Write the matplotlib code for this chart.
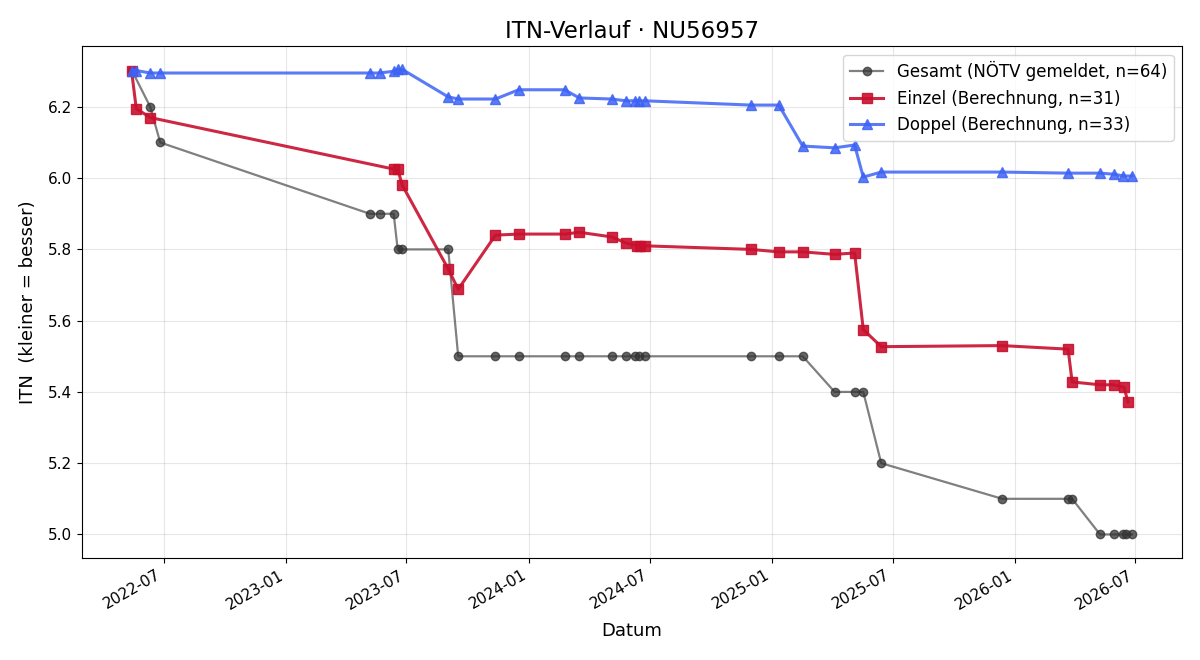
import matplotlib
matplotlib.use("Agg")
import matplotlib.pyplot as plt
import matplotlib.dates as mdates
import pandas as pd

gesamt_dates = ["2022-05-15", "2022-06-11", "2022-06-26", "2023-05-07", "2023-05-22", "2023-06-12",
                "2023-06-18", "2023-06-25", "2023-09-02", "2023-09-17", "2023-11-12", "2023-12-17",
                "2024-02-24", "2024-03-17", "2024-05-05", "2024-05-26", "2024-06-09", "2024-06-15",
                "2024-06-24", "2024-11-30", "2025-01-11", "2025-02-16", "2025-04-05", "2025-05-05",
                "2025-05-18", "2025-06-14", "2025-12-13", "2026-03-22", "2026-03-28", "2026-05-09",
                "2026-05-30", "2026-06-13", "2026-06-17", "2026-06-26"]
gesamt_vals = [6.3, 6.2, 6.1, 5.9, 5.9, 5.9,
               5.8, 5.8, 5.8, 5.5, 5.5, 5.5,
               5.5, 5.5, 5.5, 5.5, 5.5, 5.5,
               5.5, 5.5, 5.5, 5.5, 5.4, 5.4,
               5.4, 5.2, 5.1, 5.1, 5.1, 5.0,
               5.0, 5.0, 5.0, 5.0]

einzel_dates = ["2022-05-14", "2022-05-21", "2022-06-11", "2023-06-13", "2023-06-18", "2023-06-25",
                "2023-09-02", "2023-09-17", "2023-11-12", "2023-12-17", "2024-02-24", "2024-03-17",
                "2024-05-05", "2024-05-26", "2024-06-12", "2024-06-16", "2024-06-24", "2024-11-30",
                "2025-01-11", "2025-02-16", "2025-04-05", "2025-05-05", "2025-05-18", "2025-06-14",
                "2025-12-13", "2026-03-22", "2026-03-28", "2026-05-09", "2026-05-30", "2026-06-14",
                "2026-06-20"]
einzel_vals = [6.300, 6.195, 6.170, 6.025, 6.025, 5.980,
               5.745, 5.688, 5.840, 5.843, 5.843, 5.848,
               5.835, 5.818, 5.810, 5.810, 5.810, 5.800,
               5.793, 5.793, 5.786, 5.790, 5.575, 5.527,
               5.530, 5.520, 5.428, 5.420, 5.420, 5.413,
               5.372]

doppel_dates = ["2022-05-14", "2022-05-21", "2022-06-11", "2022-06-26", "2023-05-07", "2023-05-22",
                "2023-06-12", "2023-06-18", "2023-06-25", "2023-09-02", "2023-09-17", "2023-11-12",
                "2023-12-17", "2024-02-24", "2024-03-17", "2024-05-05", "2024-05-26", "2024-06-09",
                "2024-06-15", "2024-06-24", "2024-11-30", "2025-01-11", "2025-02-16", "2025-04-05",
                "2025-05-05", "2025-05-18", "2025-06-14", "2025-12-13", "2026-03-22", "2026-05-09",
                "2026-05-30", "2026-06-13", "2026-06-26"]
doppel_vals = [6.300, 6.302, 6.295, 6.295, 6.295, 6.295,
               6.300, 6.305, 6.305, 6.228, 6.222, 6.222,
               6.248, 6.248, 6.225, 6.222, 6.217, 6.217,
               6.217, 6.217, 6.205, 6.205, 6.090, 6.085,
               6.093, 6.003, 6.017, 6.017, 6.014, 6.014,
               6.011, 6.006, 6.006]

fig, ax = plt.subplots(figsize=(12, 6.6), dpi=100)

ax.plot(pd.to_datetime(gesamt_dates), gesamt_vals, marker="o", color="#555555", alpha=0.75,
        linewidth=1.6, markersize=6, markerfacecolor="#333333", markeredgecolor="#333333",
        label="Gesamt (NÖTV gemeldet, n=64)")
ax.plot(pd.to_datetime(einzel_dates), einzel_vals, marker="s", color="#c8102e", alpha=0.9,
        linewidth=2.2, markersize=7, label="Einzel (Berechnung, n=31)")
ax.plot(pd.to_datetime(doppel_dates), doppel_vals, marker="^", color="#3d63f5", alpha=0.85,
        linewidth=2.2, markersize=7, label="Doppel (Berechnung, n=33)")

ax.set_title("ITN-Verlauf · NU56957", fontsize=16.5)
ax.set_xlabel("Datum", fontsize=13, labelpad=7)
ax.set_ylabel("ITN  (kleiner = besser)", fontsize=13, labelpad=8)
ax.tick_params(labelsize=11)
ax.grid(True, alpha=0.3)
ax.xaxis.set_major_locator(mdates.MonthLocator(bymonth=[1, 7]))
ax.xaxis.set_major_formatter(mdates.DateFormatter("%Y-%m"))
ax.legend(loc="upper right", fontsize=12)
fig.autofmt_xdate()
fig.subplots_adjust(left=0.068, right=0.985, top=0.93, bottom=0.155)
fig.savefig("out.png", dpi=100)
